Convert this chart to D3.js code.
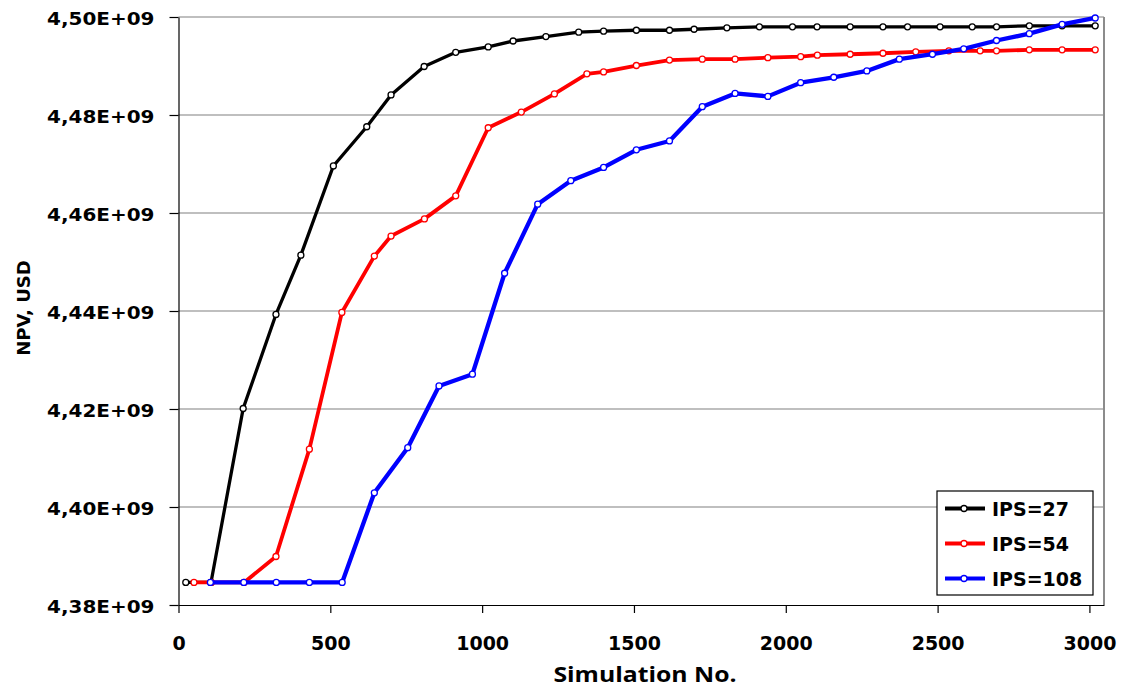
<!DOCTYPE html>
<html>
<head>
<meta charset="utf-8">
<script src="https://cdn.jsdelivr.net/npm/d3@7"></script>
<style>
  body { margin: 0; background: #fff; }
  svg text { font-family: "DejaVu Sans", Verdana, sans-serif; font-weight: bold; fill: #000; }
</style>
</head>
<body>
<svg id="chart"></svg>
<script>
// NPV (in 1E+09 USD) against simulation number
let simIps27 = [24, 107, 213, 321, 403, 510, 620, 700, 809, 913, 1020, 1102, 1210, 1318, 1400, 1508,
  1617, 1698, 1806, 1913, 2022, 2103, 2212, 2320, 2401, 2508, 2614, 2694, 2802, 2910, 3019];
let npvIps27 = [4.3846, 4.3846, 4.4201, 4.4393, 4.4514, 4.4696, 4.4776, 4.4841, 4.4899, 4.4928, 4.4939,
  4.4951, 4.4960, 4.4969, 4.4971, 4.4973, 4.4973, 4.4975, 4.4978, 4.4980, 4.4980, 4.4980, 4.4980,
  4.4980, 4.4980, 4.4980, 4.4980, 4.4980, 4.4982, 4.4982, 4.4982];

let simIps54 = [51, 108, 216, 321, 431, 538, 645, 700, 810, 913, 1020, 1129, 1238, 1345, 1400, 1508,
  1617, 1725, 1833, 1941, 2049, 2104, 2212, 2320, 2428, 2537, 2640, 2694, 2802, 2910, 3019];
let npvIps54 = [4.3846, 4.3846, 4.3846, 4.3899, 4.4118, 4.4397, 4.4512, 4.4553, 4.4588, 4.4635, 4.4774,
  4.4806, 4.4843, 4.4884, 4.4888, 4.4901, 4.4912, 4.4914, 4.4914, 4.4917, 4.4919, 4.4922, 4.4924,
  4.4926, 4.4929, 4.4931, 4.4931, 4.4931, 4.4933, 4.4933, 4.4933];

let simIps108 = [105, 215, 322, 431, 539, 645, 755, 858, 968, 1074, 1183, 1292, 1400, 1508, 1617, 1725,
  1833, 1941, 2049, 2158, 2267, 2374, 2483, 2586, 2694, 2802, 2910, 3019];
let npvIps108 = [4.3846, 4.3846, 4.3846, 4.3846, 4.3846, 4.4029, 4.4121, 4.4247, 4.4271, 4.4477, 4.4618,
  4.4666, 4.4693, 4.4729, 4.4747, 4.4817, 4.4844, 4.4838, 4.4866, 4.4877, 4.4890, 4.4914, 4.4924,
  4.4935, 4.4952, 4.4966, 4.4985, 4.4998];

let seriesNames = ["IPS=27", "IPS=54", "IPS=108"];
let xTicks = [0, 500, 1000, 1500, 2000, 2500, 3000];
let yTicks = [4.38, 4.40, 4.42, 4.44, 4.46, 4.48, 4.50];

const width = 1122;
const height = 688;

let svg = d3.select("svg#chart").attr("width", width).attr("height", height);

let margin = { top: 17, right: 18, bottom: 83, left: 178.5 };
let plotWidth = width - margin.left - margin.right;
let plotHeight = height - margin.top - margin.bottom;

let xScale = d3.scaleLinear().domain([0, 3048]).range([0, plotWidth]);
let yScale = d3.scaleLinear().domain([4.38, 4.50]).range([plotHeight, 0]);

let plot = svg.append("g").attr("transform", "translate(" + margin.left + "," + margin.top + ")");

// gridlines + right border (grey)
plot.append("g").selectAll("line")
  .data(yTicks.slice(1))
  .join("line")
  .attr("x1", 0).attr("x2", plotWidth)
  .attr("y1", d => yScale(d)).attr("y2", d => yScale(d))
  .attr("stroke", "#808080").attr("stroke-width", 1.2);
plot.append("line")
  .attr("x1", plotWidth).attr("x2", plotWidth).attr("y1", 0).attr("y2", plotHeight)
  .attr("stroke", "#8c8c8c").attr("stroke-width", 2);

// axes (the labels in the picture are a bit stretched sideways)
let stretch = 1.11;
let fmt = d => d.toFixed(2).replace(".", ",") + "E+09";
let yGroup = plot.append("g").call(d3.axisLeft(yScale).tickValues(yTicks).tickFormat(fmt).tickSize(9).tickSizeOuter(0));
yGroup.selectAll("text")
  .attr("x", -24 / stretch).attr("dy", "0.4em")
  .attr("transform", "scale(" + stretch + ",1)")
  .style("font-size", "18px");

let xGroup = plot.append("g").attr("transform", "translate(0," + plotHeight + ")")
  .call(d3.axisBottom(xScale).tickValues(xTicks).tickFormat(d3.format("d")).tickSize(8).tickSizeOuter(0));
xGroup.selectAll("text").attr("y", 45).attr("dy", 0).style("font-size", "19px");

svg.selectAll(".domain, .tick line").attr("stroke", "#000").attr("stroke-width", 1.2);

// axis titles
svg.append("text")
  .attr("transform", "translate(645,682) scale(1.18,1)")
  .attr("text-anchor", "middle")
  .style("font-family", "'Open Sans', sans-serif")
  .style("font-size", "21px")
  .text("Simulation No.");

svg.append("text")
  .attr("transform", "translate(30,308) rotate(-90)")
  .attr("text-anchor", "middle")
  .style("font-size", "18px")
  .text("NPV, USD");

// series
let colors = ["#000000", "#ff0000", "#0000ff"];
let widths = [3.3, 3.8, 4.3];
let series = [
  { name: seriesNames[0], pts: simIps27.map((s, i) => [s, npvIps27[i]]) },
  { name: seriesNames[1], pts: simIps54.map((s, i) => [s, npvIps54[i]]) },
  { name: seriesNames[2], pts: simIps108.map((s, i) => [s, npvIps108[i]]) }
];

let line = d3.line().x(d => xScale(d[0])).y(d => yScale(d[1]));

series.forEach(function(s, k) {
  let g = plot.append("g");
  g.append("path")
    .attr("d", line(s.pts))
    .attr("fill", "none")
    .attr("stroke", colors[k])
    .attr("stroke-width", widths[k])
    .attr("stroke-linejoin", "round");
  g.selectAll("circle")
    .data(s.pts)
    .join("circle")
    .attr("cx", d => xScale(d[0]))
    .attr("cy", d => yScale(d[1]))
    .attr("r", 3)
    .attr("fill", "#fff")
    .attr("stroke", colors[k])
    .attr("stroke-width", 1.3);
});

// legend
let legend = svg.append("g").attr("transform", "translate(937,491)");
legend.append("rect")
  .attr("width", 156).attr("height", 104)
  .attr("fill", "#fff").attr("stroke", "#000").attr("stroke-width", 1.2);
seriesNames.forEach(function(name, k) {
  let y = 17.5 + k * 35;
  legend.append("line")
    .attr("x1", 8).attr("x2", 48).attr("y1", y).attr("y2", y)
    .attr("stroke", colors[k]).attr("stroke-width", 3.8);
  legend.append("circle")
    .attr("cx", 27).attr("cy", y).attr("r", 3)
    .attr("fill", "#fff").attr("stroke", colors[k]).attr("stroke-width", 1.3);
  legend.append("text")
    .attr("x", 55).attr("y", y + 7)
    .style("font-size", "19px")
    .text(name);
});
</script>
</body>
</html>
